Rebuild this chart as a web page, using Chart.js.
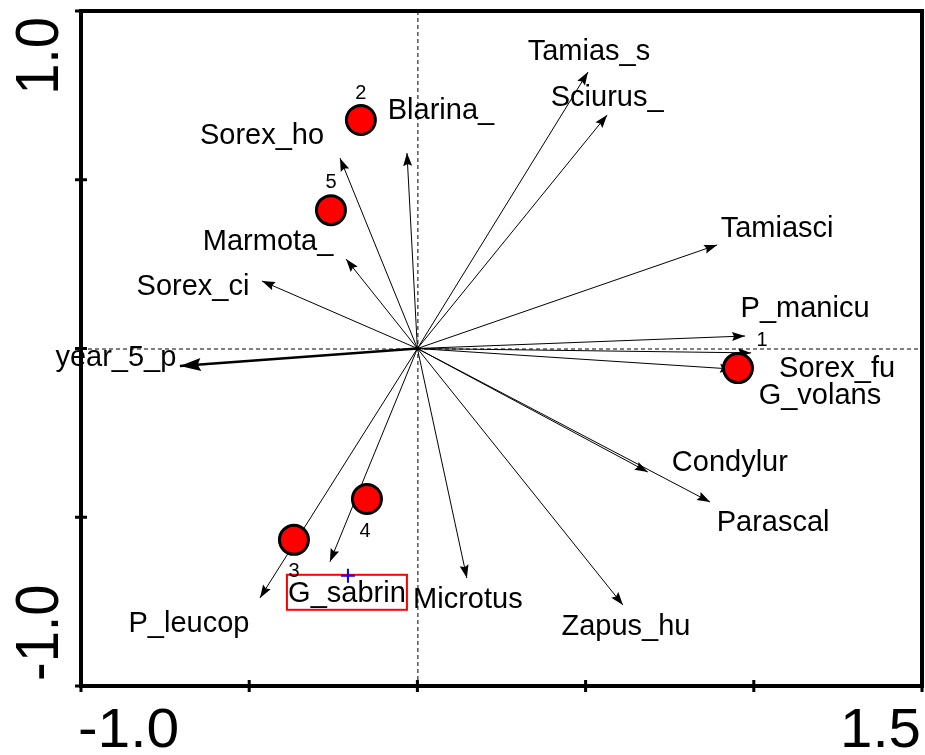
<!DOCTYPE html>
<html><head><meta charset="utf-8">
<script src="https://cdn.jsdelivr.net/npm/chart.js@4.4.0/dist/chart.umd.min.js"></script>
<style>html,body{margin:0;padding:0;background:#fff;}#wrap{width:925px;height:755px;}</style>
</head><body><div id="wrap"><canvas id="c" width="925" height="755"></canvas></div>
<script>
// ---- data ----
const speciesNames = ['Tamias_s','Sciurus_','Blarina_','Tamiasci','Sorex_ho','Marmota_','Sorex_ci','P_manicu','Sorex_fu','G_volans','Condylur','Parascal','Zapus_hu','Microtus','G_sabrin','P_leucop'];
const speciesX = [0.507, 0.564, -0.031, 0.891, -0.230, -0.212, -0.462, 0.974, 0.992, 0.938, 0.685, 0.870, 0.611, 0.147, -0.260, -0.468];
const speciesY = [0.819, 0.692, 0.579, 0.307, 0.564, 0.265, 0.200, 0.037, -0.013, -0.061, -0.366, -0.455, -0.760, -0.680, -0.632, -0.739];
const envNames = ['year_5_p'];
const envX = [-0.706];
const envY = [-0.052];
const sampleNames = ['1','2','3','4','5'];
const sampleX = [0.953, -0.168, -0.367, -0.150, -0.257];
const sampleY = [-0.058, 0.677, -0.567, -0.446, 0.410];
const xTickValues = [-1.0, -0.5, 0, 0.5, 1.0, 1.5];
const yTickValues = [-1.0, -0.5, 0, 0.5, 1.0];
const xEndLabels = ['-1.0', '1.5'];
const yEndLabels = ['-1.0', '1.0'];

// ---- layout (pixel offsets of labels from their mark) ----
const speciesLabelOffset = [[1,-12],[0,-9],[34,-34],[60,-8],[-78,-14],[-78,-9],[-69,14],[60,-19],[86,24],[87,35],[82,-1],[63,29],[3,30],[1,30],[17,40],[-71,34]];
const envLabelOffset = [[-64,0]];
const sampleLabelOffset = [[24,-22],[0,-21],[0,37],[-2,38],[0,-22]];
const FONT = '"Liberation Sans", Arial, sans-serif';

const datasets = [];
datasets.push({
  label: 'samples', order: 0,
  data: sampleX.map((x, i) => ({x, y: sampleY[i]})),
  pointRadius: 14.5, pointHoverRadius: 14.5,
  backgroundColor: '#ff0000', borderColor: '#000', borderWidth: 3, showLine: false
});
speciesNames.forEach((n, i) => {
  datasets.push({
    label: n, order: 2, kind: 'species', idx: i, type: 'line',
    data: [{x: 0, y: 0}, {x: speciesX[i], y: speciesY[i]}],
    borderColor: '#000', borderWidth: 1, pointRadius: 0, fill: false, tension: 0
  });
});
envNames.forEach((n, i) => {
  datasets.push({
    label: n, order: 1, kind: 'env', idx: i, type: 'line',
    data: [{x: 0, y: 0}, {x: envX[i], y: envY[i]}],
    borderColor: '#000', borderWidth: 2.6, pointRadius: 0, fill: false, tension: 0
  });
});

function head(ctx, x0, y0, x1, y1, len, hw) {
  const a = Math.atan2(y1 - y0, x1 - x0);
  ctx.save();
  ctx.translate(x1, y1); ctx.rotate(a);
  ctx.beginPath();
  ctx.moveTo(0, 0); ctx.lineTo(-len, hw); ctx.lineTo(-len * 0.85, 0); ctx.lineTo(-len, -hw); ctx.closePath();
  ctx.fillStyle = '#000'; ctx.fill();
  ctx.restore();
}

const bipl = {
  id: 'bipl',
  beforeDatasetsDraw(chart) {
    const {ctx, chartArea: a, scales: {x, y}} = chart;
    const x0 = x.getPixelForValue(0), y0 = y.getPixelForValue(0);
    ctx.save();
    ctx.strokeStyle = '#000'; ctx.lineWidth = 1; ctx.setLineDash([4, 3]);
    ctx.beginPath();
    ctx.moveTo(a.left, y0 + 0.5); ctx.lineTo(a.right, y0 + 0.5);
    ctx.moveTo(x0 + 0.5, a.top); ctx.lineTo(x0 + 0.5, a.bottom);
    ctx.stroke();
    ctx.restore();
  },
  afterDatasetDraw(chart, args) {
    const ds = chart.data.datasets[args.index];
    if (!ds.kind) return;
    const pts = args.meta.data;
    const ctx = chart.ctx;
    if (ds.kind === 'species') head(ctx, pts[0].x, pts[0].y, pts[1].x, pts[1].y, 13, 4.5);
    else head(ctx, pts[0].x, pts[0].y, pts[1].x, pts[1].y, 21, 6.5);
  },
  afterDatasetsDraw(chart) {
    const {ctx, scales: {x, y}, chartArea: a} = chart;
    ctx.save();
    // frame
    ctx.strokeStyle = '#000'; ctx.lineWidth = 4; ctx.setLineDash([]);
    ctx.strokeRect(a.left, a.top, a.right - a.left, a.bottom - a.top);
    ctx.lineWidth = 3;
    ctx.beginPath();
    xTickValues.forEach(v => { const px = x.getPixelForValue(v); ctx.moveTo(px, a.bottom - 6); ctx.lineTo(px, a.bottom + 6); });
    yTickValues.forEach(v => { const py = y.getPixelForValue(v); ctx.moveTo(a.left - 6, py); ctx.lineTo(a.left + 6, py); });
    ctx.stroke();

    // species labels
    ctx.fillStyle = '#000'; ctx.textBaseline = 'alphabetic'; ctx.textAlign = 'center';
    ctx.font = '29px ' + FONT;
    speciesNames.forEach((n, i) => {
      const px = x.getPixelForValue(speciesX[i]) + speciesLabelOffset[i][0];
      const py = y.getPixelForValue(speciesY[i]) + speciesLabelOffset[i][1];
      ctx.fillText(n, px, py);
      if (n === 'G_sabrin') {
        ctx.save();
        ctx.strokeStyle = '#ff0000'; ctx.lineWidth = 2;
        ctx.strokeRect(px - 60, py - 27, 120, 35);
        ctx.strokeStyle = '#0000ff'; ctx.lineWidth = 2;
        ctx.beginPath();
        ctx.moveTo(px - 6, py - 26); ctx.lineTo(px + 8, py - 26);
        ctx.moveTo(px + 1, py - 33); ctx.lineTo(px + 1, py - 19);
        ctx.stroke();
        ctx.restore();
      }
    });
    envNames.forEach((n, i) => {
      const px = x.getPixelForValue(envX[i]) + envLabelOffset[i][0];
      const py = y.getPixelForValue(envY[i]) + envLabelOffset[i][1];
      ctx.fillText(n, px, py);
    });
    // sample labels
    ctx.font = '20px ' + FONT;
    sampleNames.forEach((n, i) => {
      const px = x.getPixelForValue(sampleX[i]) + sampleLabelOffset[i][0];
      const py = y.getPixelForValue(sampleY[i]) + sampleLabelOffset[i][1];
      ctx.fillText(n, px, py);
    });

    // axis end labels
    ctx.font = '56px ' + FONT;
    const xl = x.getPixelForValue(xTickValues[0]), xr = x.getPixelForValue(xTickValues[xTickValues.length - 1]);
    ctx.save(); ctx.translate(xl - 3, 747); ctx.scale(1.05, 1); ctx.textAlign = 'left'; ctx.fillText(xEndLabels[0], 0, 0); ctx.restore();
    ctx.save(); ctx.translate(xr - 1, 747); ctx.scale(1.04, 1); ctx.textAlign = 'right'; ctx.fillText(xEndLabels[1], 0, 0); ctx.restore();
    const yb = y.getPixelForValue(yTickValues[0]), yt = y.getPixelForValue(yTickValues[yTickValues.length - 1]);
    ctx.save(); ctx.translate(58, yb - 5); ctx.rotate(-Math.PI / 2); ctx.scale(1, 1.1); ctx.textAlign = 'left'; ctx.fillText(yEndLabels[0], 0, 0); ctx.restore();
    ctx.save(); ctx.translate(58, yt + 6); ctx.rotate(-Math.PI / 2); ctx.scale(1, 1.1); ctx.textAlign = 'right'; ctx.fillText(yEndLabels[1], 0, 0); ctx.restore();
    ctx.restore();
  }
};

new Chart(document.getElementById('c'), {
  type: 'scatter',
  data: {datasets},
  options: {
    responsive: false, animation: false, devicePixelRatio: 1,
    layout: {autoPadding: false, padding: {left: 81, right: 3, top: 11, bottom: 69}},
    plugins: {legend: {display: false}, tooltip: {enabled: false}},
    events: [],
    scales: {
      x: {type: 'linear', min: -1.0, max: 1.5, display: false},
      y: {type: 'linear', min: -1.0, max: 1.0, display: false}
    }
  },
  plugins: [bipl]
});
</script></body></html>
